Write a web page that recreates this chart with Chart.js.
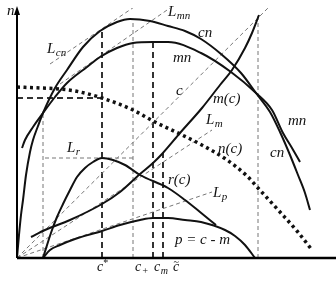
<!DOCTYPE html>
<html>
<head>
<meta charset="utf-8">
<script src="https://cdn.jsdelivr.net/npm/chart.js@4.4.1/dist/chart.umd.min.js"></script>
<style>
  html, body { margin: 0; padding: 0; background: #fff; }
</style>
</head>
<body>
<canvas id="chart" width="336" height="297"></canvas>
<script>
// Curvas (c en horizontal, valor en vertical)
const cnX = [0, 2, 4, 6, 9, 13, 16, 21, 26, 38, 50, 66, 83, 100, 113, 133, 151, 168, 184, 204, 224, 239, 253, 263, 273, 281, 288, 293];
const cnY = [0, 23, 43, 58, 83, 106, 118, 132, 145, 170, 188, 211, 227, 236, 239, 237, 232, 227, 219, 204, 185, 165, 146, 126, 103, 83, 65, 48];

const mnX = [5, 8, 16, 26, 38, 50, 70, 83, 100, 116, 136, 151, 184, 214, 239, 255, 266, 275, 283];
const mnY = [110, 118, 131, 145, 161, 175, 191, 201, 210, 215, 216, 216, 205, 186, 165, 148, 125, 110, 96];

const mX = [14, 28, 53, 85, 103, 123, 136, 145, 163, 185, 203, 215, 228, 235, 242];
const mY = [21, 28, 38, 54, 66, 84, 95, 104, 125, 150, 173, 188, 210, 225, 243];

const nX = [0, 23, 43, 63, 85, 116, 136, 163, 183, 210, 230, 241, 263, 280, 295];
const nY = [171, 170, 169, 166, 160, 148, 137, 124, 114, 98, 82, 70, 46, 27, 8];

const rX = [26, 31, 35, 40, 46, 53, 60, 68, 76, 85, 96, 108, 123, 151, 168, 183, 199];
const rY = [0, 16, 28, 41, 54, 68, 81, 90, 96, 100, 98, 93, 83, 70, 58, 46, 33];

const pX = [26, 33, 43, 58, 85, 103, 123, 136, 151, 168, 184, 208, 218, 228, 238];
const pY = [0, 8, 13, 19, 27, 33, 38, 40, 40, 38, 36, 28, 22, 13, 0];

// Rectas auxiliares (extremos)
const cLineX = [0, 251], cLineY = [0, 250];
const LmX = [0, 195], LmY = [0, 128];
const LpX = [0, 195], LpY = [0, 66];
const LcnX = [33, 123], LcnY = [194, 255];
const LmnX = [43, 153], LmnY = [174, 250];
const LrX = [28, 116], LrY = [100, 100];

// Marcas verticales en el eje c: posición y altura
const heavyVX = [85, 136, 146], heavyVTop = [228, 216, 105];
const thinVX = [26, 116, 241], thinVTop = [145, 239, 243];
// n(c*) horizontal
const nStarY = 160, nStarX = 85;

// Etiquetas
const tickLabels = [
  { x: 80, y: -13, t: 'c', sup: '*' },
  { x: 118, y: -13, t: 'c', sub: '+' },
  { x: 137, y: -13, t: 'c', sub: 'm' },
  { x: 156, y: -13, t: 'c', tilde: true }
];
const curveLabels = [
  { x: -10, y: 243, t: 'n' },
  { x: 30, y: 205, t: 'L', sub: 'cn' },
  { x: 151, y: 242, t: 'L', sub: 'mn' },
  { x: 181, y: 221, t: 'cn' },
  { x: 156, y: 196, t: 'mn' },
  { x: 159, y: 163, t: 'c' },
  { x: 196, y: 155, t: 'm(c)' },
  { x: 189, y: 134, t: 'L', sub: 'm' },
  { x: 201, y: 105, t: 'n(c)' },
  { x: 271, y: 133, t: 'mn' },
  { x: 253, y: 101, t: 'cn' },
  { x: 50, y: 106, t: 'L', sub: 'r' },
  { x: 151, y: 74, t: 'r(c)' },
  { x: 196, y: 61, t: 'L', sub: 'p' },
  { x: 158, y: 14, t: 'p = c - m' }
];

const pts = (xs, ys) => xs.map((x, i) => ({ x, y: ys[i] }));

const curve = (xs, ys, extra) => Object.assign({
  data: pts(xs, ys),
  showLine: true,
  pointRadius: 0,
  borderColor: '#111',
  borderWidth: 2,
  cubicInterpolationMode: 'monotone',
  fill: false
}, extra || {});

const guide = (xs, ys, heavy) => ({
  data: pts(xs, ys),
  showLine: true,
  pointRadius: 0,
  borderColor: heavy ? '#333' : '#777',
  borderWidth: heavy ? 2 : 1,
  borderDash: heavy ? [6, 4] : [4, 3],
  tension: 0,
  fill: false
});

const datasets = [
  curve(cnX, cnY),
  curve(mnX, mnY),
  curve(mX, mY),
  curve(rX, rY),
  curve(pX, pY),
  curve(nX, nY, { borderWidth: 3.5, borderDash: [3, 3.5], borderColor: '#111' }),
  guide(cLineX, cLineY),
  guide(LmX, LmY),
  guide(LpX, LpY),
  guide(LcnX, LcnY),
  guide(LmnX, LmnY),
  guide(LrX, LrY),
  guide([0, nStarX], [nStarY, nStarY], true)
];
heavyVX.forEach((x, i) => datasets.push(guide([x, x], [0, heavyVTop[i]], true)));
thinVX.forEach((x, i) => datasets.push(guide([x, x], [0, thinVTop[i]])));

const FONT = '"Liberation Serif", "DejaVu Serif", serif';

function drawLabel(ctx, sx, sy, lb, size) {
  ctx.font = 'italic ' + size + 'px ' + FONT;
  ctx.fillText(lb.t, sx, sy);
  const w = ctx.measureText(lb.t).width;
  const small = Math.round(size * 0.72);
  if (lb.sub) {
    ctx.font = 'italic ' + small + 'px ' + FONT;
    ctx.fillText(lb.sub, sx + w + 0.5, sy + 3);
  }
  if (lb.sup) {
    ctx.font = small + 'px ' + FONT;
    ctx.fillText(lb.sup, sx + w, sy - 5);
  }
  if (lb.tilde) {
    ctx.font = small + 'px ' + FONT;
    ctx.fillText('~', sx + 0.5, sy - 6);
  }
}

// Ejes con flecha + etiquetas
const axesPlugin = {
  id: 'axesPlugin',
  afterDatasetsDraw(chart) {
    const { ctx, scales: { x, y } } = chart;
    const x0 = x.getPixelForValue(0), y0 = y.getPixelForValue(0);
    ctx.save();
    ctx.strokeStyle = '#000';
    ctx.lineWidth = 2.5;
    ctx.beginPath();
    ctx.moveTo(x0, y0);
    ctx.lineTo(chart.width, y0);
    ctx.stroke();
    ctx.lineWidth = 2;
    ctx.beginPath();
    ctx.moveTo(x0, y0);
    ctx.lineTo(x0, y.getPixelForValue(y.max) + 4);
    ctx.stroke();
    ctx.fillStyle = '#000';
    ctx.beginPath();
    const top = y.getPixelForValue(y.max) - 2;
    ctx.moveTo(x0, top);
    ctx.lineTo(x0 - 3, top + 9);
    ctx.lineTo(x0 + 3, top + 9);
    ctx.closePath();
    ctx.fill();

    ctx.fillStyle = '#111';
    ctx.textBaseline = 'alphabetic';
    curveLabels.forEach(lb => drawLabel(ctx, x.getPixelForValue(lb.x), y.getPixelForValue(lb.y), lb, 15));
    tickLabels.forEach(lb => drawLabel(ctx, x.getPixelForValue(lb.x), y.getPixelForValue(lb.y), lb, 14));
    ctx.restore();
  }
};

new Chart(document.getElementById('chart'), {
  type: 'scatter',
  data: { datasets },
  options: {
    responsive: false,
    devicePixelRatio: 1,
    animation: false,
    layout: { padding: { left: 17, right: 0, top: 8, bottom: 39 } },
    plugins: { legend: { display: false }, tooltip: { enabled: false } },
    scales: {
      x: { type: 'linear', min: 0, max: 319, display: false },
      y: { type: 'linear', min: 0, max: 250, display: false }
    }
  },
  plugins: [axesPlugin]
});
</script>
</body>
</html>
